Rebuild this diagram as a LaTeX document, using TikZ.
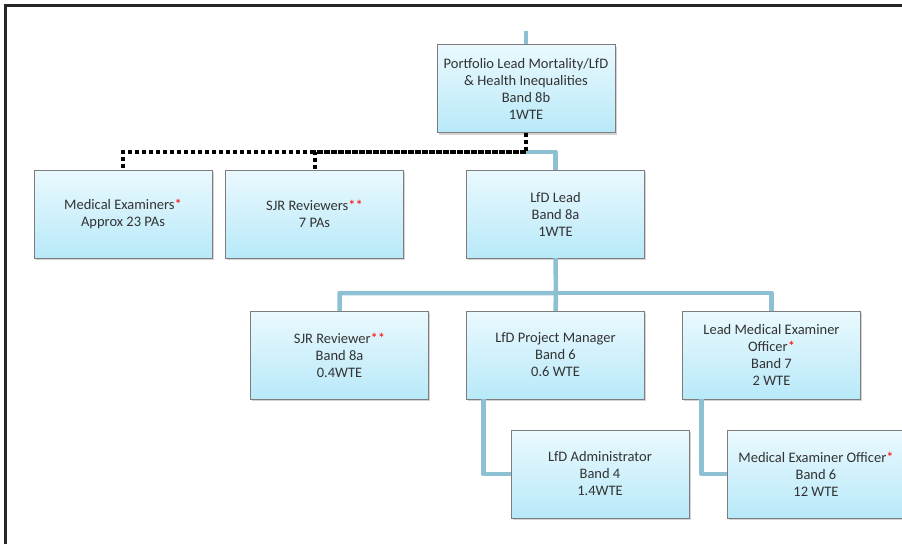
\documentclass[tikz,border=0pt]{standalone}
\usepackage{fontspec}
\setmainfont{Carlito}
\usetikzlibrary{shadows}
\definecolor{boxtop}{RGB}{234,249,254}
\definecolor{boxbot}{RGB}{184,233,249}
\definecolor{boxline}{RGB}{125,125,125}
\definecolor{linkblue}{RGB}{142,192,212}
\newcommand{\rst}[1]{\textcolor{red}{#1}}

\begin{document}
\begin{tikzpicture}[x=1pt,y=-1pt]
\useasboundingbox (0,0) rectangle (902,544);
\clip (0,0) rectangle (902,544);
\draw[line width=2.5pt,black!85] (5.3,544) -- (5.3,5.3) -- (902,5.3);

\begin{scope}[every node/.style={rectangle,draw=boxline,top color=boxtop,bottom color=boxbot,
              minimum width=178pt,minimum height=88pt,align=center,text=black!80,
              font=\fontsize{14.5}{17}\selectfont,
              drop shadow={shadow xshift=1.5pt,shadow yshift=-2pt,opacity=.35}}]
    \node (PL)   at (526,88.5)  {Portfolio Lead Mortality/LfD\\ \& Health Inequalities\\ Band 8b\\ 1WTE};
    \node (ME)   at (123,214)   {Medical Examiners\rst{*}\\ Approx 23 PAs};
    \node (SJRS) at (314.5,214) {SJR Reviewers\rst{**}\\ 7 PAs};
    \node (LL)   at (555.5,214) {LfD Lead\\ Band 8a\\ 1WTE};
    \node (SJR)  at (339.5,355) {SJR Reviewer\rst{**}\\ Band 8a\\ 0.4WTE};
    \node (PM)   at (555.5,355) {LfD Project Manager\\ Band 6\\ 0.6 WTE};
    \node (LMEO) at (771.5,355) {Lead Medical Examiner\\ Officer\rst{*}\\ Band 7\\ 2 WTE};
    \node (ADM)  at (600,474)   {LfD Administrator\\ Band 4\\ 1.4WTE};
    \node (MEO)  at (816,474)   {Medical Examiner Officer\rst{*}\\ Band 6\\ 12 WTE};
\end{scope}

\coordinate (top) at (526,31);
\coordinate (split) at (526,152);
\coordinate (bus) at (556,293);

\begin{scope}[link/.style={draw=linkblue,line width=4.5pt,line join=round},
              dots/.style={draw=black,line width=4pt,dash pattern=on 4pt off 3pt}]
    \draw [link] (top) -- (PL.north);
    \draw [link] (split) -| (LL.north);
    \draw [link] (LL.south) -- (bus) -| (SJR.north);
    \draw [link] (bus) -| (LMEO.north);
    \draw [link] (bus) -- (PM.north);
    \draw [link] ([xshift=17pt]PM.south west) |- (ADM.west);
    \draw [link] ([xshift=19pt]LMEO.south west) |- (MEO.west);
    \draw [dots] (PL.south) -- (split) -| (ME.north);
    \draw [dots] (split) -| (SJRS.north);
\end{scope}
\end{tikzpicture}
\end{document}
